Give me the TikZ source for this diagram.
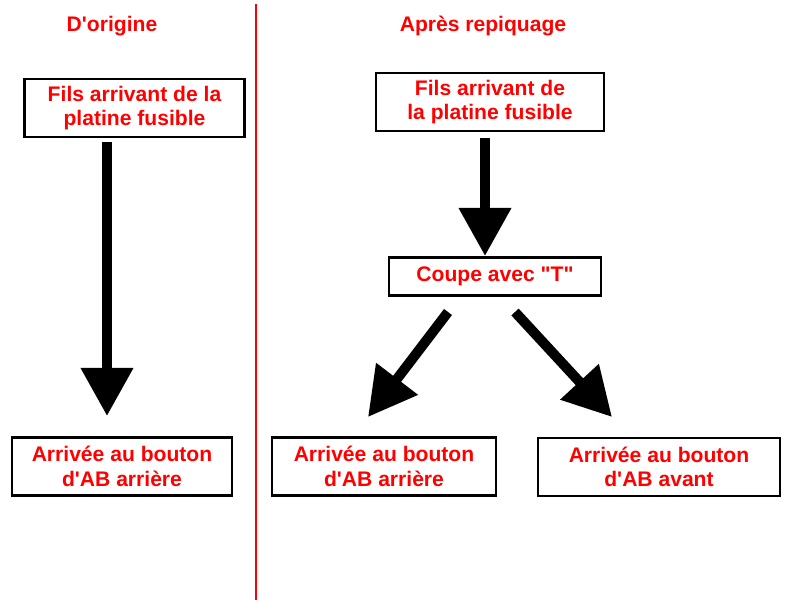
\documentclass[tikz,border=0pt]{standalone}
\usepackage{fontspec}
\setmainfont[Ligatures=TeXOff]{Liberation Sans}
\usetikzlibrary{arrows.meta}
\begin{document}
\begin{tikzpicture}[x=0.025cm, y=-0.025cm,
    box/.style={draw=black, line width=1.8pt, minimum width=#1, minimum height=1.45cm,
      inner sep=0pt, align=center, text=red, font=\bfseries\fontsize{15}{17.5}\selectfont},
    box/.default=5.5cm,
    title/.style={text=red, font=\bfseries\fontsize{15}{17}\selectfont},
    bigarrow/.style={line width=0.25cm, -{Triangle[length=1.2cm, width=1.25cm]}}]
    \useasboundingbox (0,0) rectangle (800,600);

    \node[title] (t1) at (112,26) {D'origine};
    \node[title] (t2) at (483,26) {Après repiquage};
    \draw[red, line width=1.2pt] (256,4) -- (256,600);

    % gauche
    \node[box] (fils1) at (134.5,108) {Fils arrivant de la\\platine fusible};
    \node[box] (arr1) at (122,466.5) {Arrivée au bouton\\d'AB arrière};
    \draw[bigarrow] (fils1.south -| 107,0) ++(0,4) -- (107,416);

    % droite
    \node[box=5.7cm] (fils2) at (490,102) {Fils arrivant de\\la platine fusible};
    \node[box=5.3cm, minimum height=0.95cm] (coupe) at (495,276.5) {Coupe avec "T"};
    \node[box=5.6cm] (arr2) at (384,466.5) {Arrivée au bouton\\d'AB arrière};
    \node[box=6.05cm] (arr3) at (659,467) {Arrivée au bouton\\d'AB avant};
    \coordinate (c1) at (485,138);
    \coordinate (c2) at (485,256);
    \coordinate (g1) at (448,312);
    \coordinate (g2) at (368,417);
    \coordinate (d1) at (515,312);
    \coordinate (d2) at (612,417);
    \draw[bigarrow] (c1) -- (c2);
    \draw[bigarrow] (g1) -- (g2);
    \draw[bigarrow] (d1) -- (d2);
\end{tikzpicture}
\end{document}
